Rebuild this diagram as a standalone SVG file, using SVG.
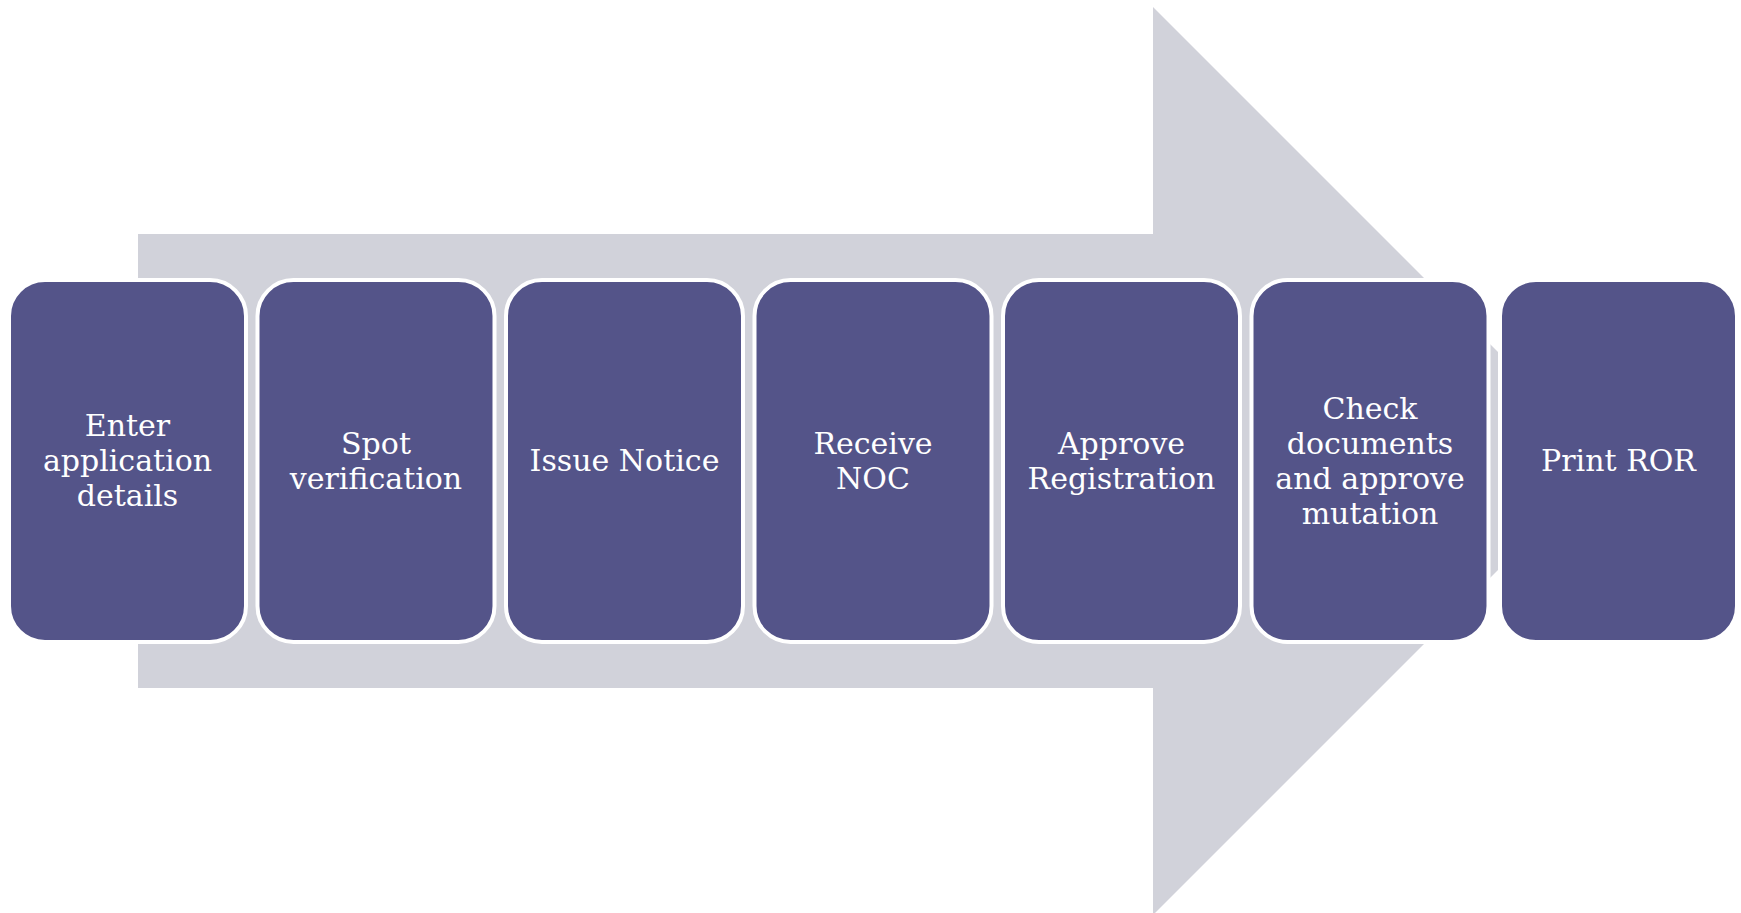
<svg xmlns="http://www.w3.org/2000/svg" width="1741" height="913" viewBox="0 0 1741 913">
<style>
.box{fill:#545489;stroke:#ffffff;stroke-width:4}
.lbl{fill:#ffffff;font-family:"DejaVu Serif","Liberation Serif",serif;font-size:30px;text-anchor:middle}
</style>
<rect x="0" y="0" width="1741" height="913" fill="#ffffff"/>
<g id="arrow">
<polygon points="138,234 1153,234 1153,7 1607,461 1153,915 1153,688 138,688" fill="#d1d2da"/>
</g>
<g id="connectors"></g>
<g id="n1"><rect class="box" x="9" y="280" width="237" height="362" rx="36"/>
<text class="lbl" x="127.5"><tspan x="127.5" y="436">Enter</tspan><tspan x="127.5" y="471">application</tspan><tspan x="127.5" y="506">details</tspan></text></g>
<g id="n2"><rect class="box" x="257.5" y="280" width="237" height="362" rx="36"/>
<text class="lbl"><tspan x="376" y="453.5">Spot</tspan><tspan x="376" y="488.5">verification</tspan></text></g>
<g id="n3"><rect class="box" x="506" y="280" width="237" height="362" rx="36"/>
<text class="lbl" x="624.5" y="471">Issue Notice</text></g>
<g id="n4"><rect class="box" x="754.5" y="280" width="237" height="362" rx="36"/>
<text class="lbl"><tspan x="873" y="453.5">Receive</tspan><tspan x="873" y="488.5">NOC</tspan></text></g>
<g id="n5"><rect class="box" x="1003" y="280" width="237" height="362" rx="36"/>
<text class="lbl"><tspan x="1121.5" y="453.5">Approve</tspan><tspan x="1121.5" y="488.5">Registration</tspan></text></g>
<g id="n6"><rect class="box" x="1251.5" y="280" width="237" height="362" rx="36"/>
<text class="lbl"><tspan x="1370" y="418.5">Check</tspan><tspan x="1370" y="453.5">documents</tspan><tspan x="1370" y="488.5">and approve</tspan><tspan x="1370" y="523.5">mutation</tspan></text></g>
<g id="n7"><rect class="box" x="1500" y="280" width="237" height="362" rx="36"/>
<text class="lbl" x="1618.5" y="471">Print ROR</text></g>
</svg>
